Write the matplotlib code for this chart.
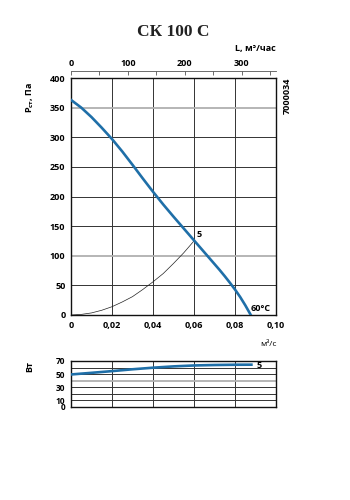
import matplotlib
matplotlib.use("Agg")
import matplotlib.pyplot as plt

plt.rcParams['font.family'] = ['Open Sans', 'DejaVu Sans']
plt.rcParams['mathtext.fontset'] = 'custom'
plt.rcParams['mathtext.rm'] = 'Open Sans:bold'
plt.rcParams['mathtext.it'] = 'Open Sans:bold'

# Fan curve (static pressure, Pa) vs flow (m3/s)
flow_fan = [0.0, 0.005, 0.01, 0.015, 0.02, 0.025, 0.03, 0.035, 0.04, 0.045, 0.05,
            0.055, 0.06, 0.065, 0.07, 0.0725, 0.075, 0.0775, 0.08, 0.0825, 0.085, 0.0877]
p_fan = [363, 350, 334, 316, 297, 276, 253.5, 230.5, 208, 186.5, 166,
         146, 126, 106, 86, 76, 65.5, 54.5, 43, 30.5, 16.5, 0]

# System curve
flow_sys = [0.0, 0.005, 0.01, 0.015, 0.02, 0.025, 0.03, 0.035, 0.04, 0.045, 0.05, 0.055, 0.06]
p_sys = [0, 1, 3.5, 8, 14, 22, 31, 43, 56, 70, 87, 105, 125]

# Power curve (W)
flow_pow = [0.0, 0.01, 0.02, 0.03, 0.04, 0.05, 0.06, 0.07, 0.08, 0.088]
power = [49.5, 52, 54.6, 57.4, 59.8, 61.8, 63.2, 63.9, 64.3, 64.4]

x_ticks = [0, 0.02, 0.04, 0.06, 0.08, 0.10]
x_labels = ["0", "0,02", "0,04", "0,06", "0,08", "0,10"]
p_ticks = [0, 50, 100, 150, 200, 250, 300, 350, 400]
w_ticks = [0, 10, 30, 50, 70]
top_ticks_major = [0, 100, 200, 300]
top_ticks_minor = [50, 150, 250, 350]

blue = '#1f6fa8'
dark = '#333333'
gray = '#b0b0b0'
fs = 6.5
fw = 'bold'

fig = plt.figure(figsize=(3.5, 5), dpi=100)
ax = fig.add_axes([71/350, 1-315/500, 205/350, 237/500])
ax.set_xlim(0, 0.10)
ax.set_ylim(0, 400)

# grid
for xv in x_ticks[1:-1]:
    ax.axvline(xv, color=dark, lw=0.7, zorder=1)
for yv in p_ticks[1:-1]:
    c = gray if yv in (350, 100) else dark
    w = 1.3 if yv in (350, 100) else 0.7
    ax.axhline(yv, color=c, lw=w, zorder=1)

ax.plot(flow_sys, p_sys, color='#222222', lw=0.5, zorder=2)
ax.plot(flow_fan, p_fan, color=blue, lw=1.9, zorder=3, solid_joinstyle='round')
ax.text(0.0612, 128, "5", fontsize=fs, fontweight=fw, ha='left', va='bottom')
ax.text(0.0878, 3, "60°C", fontsize=fs, fontweight=fw, ha='left', va='bottom')

ax.set_xticks(x_ticks)
ax.set_xticklabels(x_labels)
ax.set_yticks(p_ticks)
ax.tick_params(length=0, labelsize=fs, pad=4)
for lab in ax.get_xticklabels() + ax.get_yticklabels():
    lab.set_fontweight(fw)
for s in ax.spines.values():
    s.set_linewidth(1.0)
    s.set_color('#111111')

# top axis in m3/h
sec = ax.secondary_xaxis('top', functions=(lambda x: x * 3600, lambda x: x / 3600))
sec.set_xticks(top_ticks_major)
sec.set_xticks(top_ticks_minor, minor=True)
sec.spines['top'].set_position(('outward', 5))
sec.spines['top'].set_linewidth(0.6)
sec.spines['top'].set_color('#555555')
sec.tick_params(which='both', direction='in', length=3, width=0.6, color='#555555', labelsize=fs, pad=2)
for lab in sec.get_xticklabels():
    lab.set_fontweight(fw)

fig.text(173/350, 1-32/500, "СК 100 С", family='Liberation Serif', fontweight='bold',
         fontsize=12.5, ha='center', va='center', color='#222222')
fig.text(276/350, 1-48/500, "L, м³/час", fontsize=fs, fontweight=fw, ha='right', va='center')
fig.text(30/350, 1-97/500, r"P$_{\mathrm{ст}}$, Па", fontsize=fs, fontweight=fw, rotation=90,
         ha='center', va='center')
fig.text(287/350, 1-96/500, "7000034", fontsize=fs, fontweight=fw, rotation=90,
         ha='center', va='center')
fig.text(277/350, 1-345/500, "м³/с", fontsize=fs - 0.5, ha='right', va='center')

# power axes
ax2 = fig.add_axes([71/350, 1-407/500, 205/350, 46/500])
ax2.set_xlim(0, 0.10)
ax2.set_ylim(0, 70)
for xv in x_ticks[1:-1]:
    ax2.axvline(xv, color=dark, lw=0.7, zorder=1)
for yv in range(10, 70, 10):
    c = gray if yv == 40 else dark
    w = 1.3 if yv == 40 else 0.7
    ax2.axhline(yv, color=c, lw=w, zorder=1)
ax2.plot(flow_pow, power, color=blue, lw=1.9, zorder=3, solid_joinstyle='round')
ax2.text(0.0905, 62.5, "5", fontsize=fs, fontweight=fw, ha='left', va='center')
ax2.set_xticks([])
ax2.set_yticks(w_ticks)
ax2.tick_params(length=0, labelsize=6.0, pad=4)
for lab in ax2.get_yticklabels():
    lab.set_fontweight(fw)
for s in ax2.spines.values():
    s.set_linewidth(1.0)
    s.set_color('#111111')
fig.text(30/350, 1-367/500, "Вт", fontsize=fs, fontweight=fw, rotation=90,
         ha='center', va='center')

fig.savefig("out.png", dpi=100)
